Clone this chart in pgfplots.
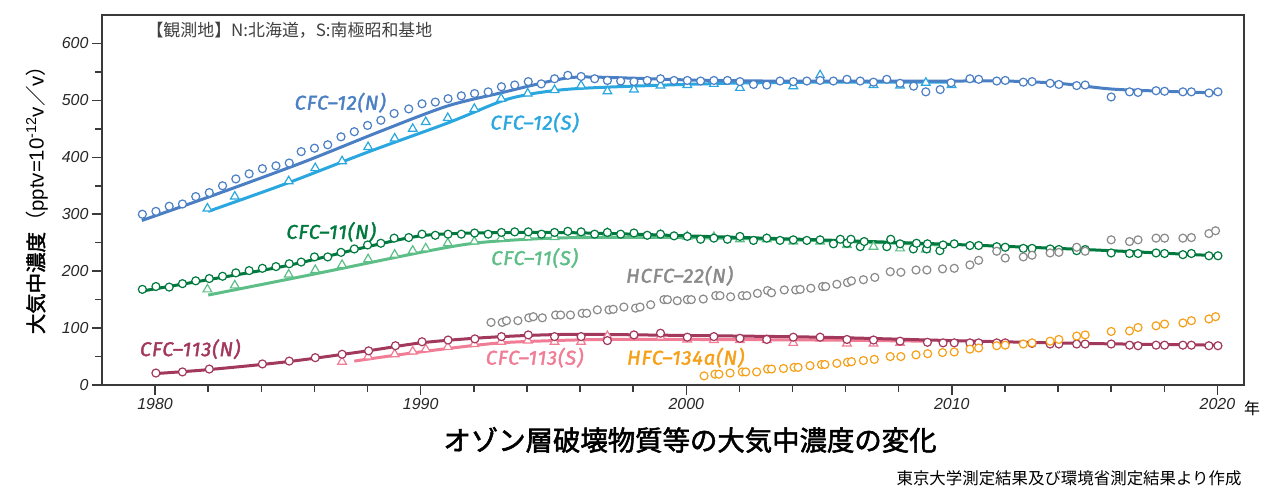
\documentclass[border=0pt]{standalone}
\usepackage{fontspec}
\setmainfont{Liberation Sans}
\newfontfamily\cjk{Noto Sans CJK JP}
\newfontfamily\cjkfb{Noto Sans CJK JP}[FakeBold=2]
\newfontfamily\lblfont{Fira Sans}[LetterSpace=5, FakeBold=2]
\usepackage{pgfplots}
\pgfplotsset{compat=1.18}

\definecolor{c12n}{HTML}{4B7FC4}
\definecolor{c12s}{HTML}{2AA7DF}
\definecolor{c11n}{HTML}{00793E}
\definecolor{c11s}{HTML}{5DBF87}
\definecolor{c22}{HTML}{8A8A8A}
\definecolor{c113n}{HTML}{A2385C}
\definecolor{c113s}{HTML}{F07C95}
\definecolor{c134}{HTML}{F6A01A}
\definecolor{axgray}{HTML}{3A3A3A}

\pgfplotsset{
  trend/.style={no markers, smooth, line width=3bp, color=#1},
  circ/.style={only marks, mark=*, mark size=4bp,
    mark options={draw=#1, fill=white, line width=1.2bp}},
  tri/.style={only marks, mark=triangle*, mark size=5bp,
    mark options={draw=#1, fill=white, line width=1.2bp}},
}
\tikzset{lbl/.style={font=\lblfont\itshape\fontsize{20}{20}\selectfont, text=#1}}

\begin{document}
\begin{tikzpicture}
\begin{axis}[
  scale only axis, width=1142bp, height=370bp,
  xmin=1978, xmax=2021, ymin=0, ymax=650,
  axis line style={line width=2bp, color=axgray},
  xtick={1980,1990,2000,2010,2020},
  minor xtick={1982,1984,1986,1988,1992,1994,1996,1998,2002,2004,2006,2008,2012,2014,2016,2018},
  ytick={0,100,...,600}, minor ytick={50,150,...,550},
  tick align=outside, xtick pos=bottom, ytick pos=left,
  major tick length=10bp, minor tick length=7bp,
  every tick/.style={line width=1.5bp, color=axgray},
  ticklabel style={font=\fontsize{16}{16}\selectfont\itshape, text=black!85},
  /pgf/number format/assume math mode=true,
  /pgf/number format/1000 sep={},
  clip=false,
]
% CFC-12
\addplot[trend=c12s] coordinates {(1982,305)(1985,355)(1988,409)(1991,460)(1993,498)(1994,510)(1995,517)(1996,521)(1998,525)(2001.5,530)(2005,532)(2008,532)(2010,532)};
\addplot[trend=c12n] coordinates {(1979.5,289)(1982,330)(1985.5,390)(1988.5,446)(1991,490)(1993,513)(1995,535)(1996,541)(1998,539)(2000,536)(2003,534)(2006,534)(2010,534)(2012,534)(2014,530)(2016,520)(2018,516)(2020,513)};
\addplot[tri=c12s] coordinates {(1981.97,310)(1983.0,331)(1985.03,358)(1986.03,381)(1987.04,393)(1988.02,418)(1989.02,433)(1989.70,450)(1990.19,462)(1991.02,469)(1992.02,485)(1993.03,503)(1994.03,512)(1995.04,518)(1996.04,526)(1997.03,516)(1998.03,519)(1999.03,526)(2000.04,527)(2001.04,529)(2002.02,522)(2004.03,525)(2005.04,544)(2007.05,527)(2008.05,526)(2009.02,531)(2009.99,527)};
\addplot[circ=c12n] coordinates {(1979.52,300)(1980.03,305)(1980.53,314)(1981.03,318)(1981.53,331)(1982.04,338)(1982.54,350)(1983.04,362)(1983.54,371)(1984.04,380)(1984.55,385)(1985.05,390)(1985.5,410)(1986.0,416)(1986.5,422)(1987.0,436)(1987.5,445)(1988.0,456)(1988.5,465)(1989.0,477)(1989.55,485)(1990.05,494)(1990.55,497)(1991.03,503)(1991.53,508)(1992.03,512)(1992.54,515)(1993.04,524)(1993.54,527)(1994.05,533)(1994.54,529)(1995.04,538)(1995.54,544)(1996.04,542)(1996.55,538)(1997.03,535)(1997.53,534)(1998.03,533)(1998.53,535)(1999.03,538)(1999.54,535)(2000.04,535)(2000.54,534)(2001.04,535)(2001.55,535)(2002.02,533)(2002.53,528)(2003.03,527)(2003.53,534)(2004.03,533)(2004.54,534)(2005.04,535)(2005.54,534)(2006.05,537)(2006.55,534)(2007.05,532)(2007.55,537)(2008.05,530)(2008.56,525)(2009.02,515)(2009.56,519)(2009.97,531)(2010.68,538)(2011.01,537)(2011.69,534)(2012.01,535)(2012.69,532)(2013.02,533)(2013.70,530)(2014.03,528)(2014.70,526)(2015.02,527)(2016.0,506)(2016.69,515)(2017.01,514)(2017.69,517)(2018.01,516)(2018.70,515)(2019.02,515)(2019.68,513)(2020.02,515)};
% CFC-11
\addplot[trend=c11s] coordinates {(1982,158)(1986,195)(1990,233)(1992,249)(1994,256)(1996,259)(2000,259)(2004,255)(2008,249)(2009.5,246)};
\addplot[trend=c11n] coordinates {(1979.5,165)(1982,185)(1985,210)(1988,243)(1990,262)(1992,267)(1995,268)(1998,265)(2000,262)(2005,255)(2010,247)(2015,238)(2020,227)};
\addplot[tri=c11s] coordinates {(1981.97,168)(1983.0,175)(1985.03,194)(1986.03,202)(1987.04,211)(1988.02,221)(1989.02,229)(1989.70,236)(1990.19,240)(1991.02,249)(1992.02,252)(1993.03,258)(1994.03,260)(1995.04,260)(1996.04,266)(1997.03,267)(1998.03,264)(1999.03,264)(2000.04,261)(2001.04,260)(2002.02,256)(2003.03,256)(2004.03,252)(2005.04,252)(2006.05,246)(2007.05,243)(2008.05,240)(2009.02,238)};
\addplot[circ=c11n] coordinates {(1979.52,168)(1980.03,173)(1980.53,172)(1981.03,178)(1981.53,183)(1982.04,187)(1982.54,191)(1983.04,197)(1983.54,201)(1984.04,205)(1984.55,208)(1985.05,213)(1985.5,216)(1986.0,225)(1986.5,225)(1987.0,233)(1987.5,239)(1988.0,246)(1988.5,249)(1989.0,258)(1989.55,259)(1990.05,265)(1990.55,263)(1991.03,265)(1991.53,265)(1992.03,267)(1992.54,265)(1993.04,268)(1993.54,269)(1994.05,269)(1994.55,265)(1995.04,268)(1995.54,270)(1996.04,269)(1996.55,265)(1997.03,268)(1997.53,265)(1998.03,267)(1998.53,263)(1999.03,265)(1999.54,262)(2000.04,261)(2000.54,256)(2001.04,258)(2001.55,256)(2002.02,261)(2002.53,254)(2003.03,258)(2003.53,254)(2004.03,255)(2004.54,254)(2005.04,255)(2005.54,248)(2005.8,256)(2006.05,249)(2006.2,256)(2006.55,243)(2006.7,252)(2007.55,243)(2007.7,256)(2008.05,248)(2008.55,239)(2008.67,249)(2009.05,239)(2009.08,248)(2009.55,236)(2009.67,246)(2010.09,248)(2010.68,245)(2011.01,245)(2011.69,243)(2012.01,242)(2012.69,240)(2013.02,240)(2013.70,239)(2014.03,238)(2014.70,236)(2015.02,238)(2016.0,232)(2016.69,231)(2017.01,231)(2017.69,232)(2018.01,231)(2018.70,229)(2019.02,231)(2019.68,227)(2020.02,227)};
% HCFC-22
\addplot[circ=c22] coordinates {(1992.65,110)(1993.07,110)(1993.23,113)(1993.66,113)(1994.07,118)(1994.24,120)(1994.58,118)(1995.08,123)(1995.27,123)(1995.64,123)(1996.08,126)(1996.25,126)(1996.65,132)(1997.09,132)(1997.25,133)(1997.65,137)(1998.09,135)(1998.26,137)(1998.66,141)(1999.16,150)(1999.29,150)(1999.66,148)(2000.04,150)(2000.19,150)(2000.64,151)(2001.11,157)(2001.27,157)(2001.67,155)(2002.11,157)(2002.28,157)(2002.68,161)(2003.06,166)(2003.21,162)(2003.69,167)(2004.12,167)(2004.29,168)(2004.69,170)(2005.13,173)(2005.25,173)(2005.67,177)(2006.07,180)(2006.22,183)(2006.67,185)(2007.10,189)(2007.68,199)(2008.08,198)(2008.65,202)(2009.06,202)(2009.65,204)(2010.09,205)(2010.68,211)(2011.01,219)(2011.69,235)(2012.01,223)(2012.69,225)(2013.02,228)(2013.70,232)(2014.03,233)(2014.70,242)(2015.02,235)(2016.0,255)(2016.69,252)(2017.01,255)(2017.69,258)(2018.01,258)(2018.70,258)(2019.02,259)(2019.68,266)(2019.93,271)};
% CFC-113
\addplot[trend=c113s] coordinates {(1987.5,42)(1989,52)(1991,64)(1993,74)(1995,78)(1997,80)(2000,80)(2005,79)(2009,77)};
\addplot[trend=c113n] coordinates {(1980,20)(1982,27)(1985,41)(1988,60)(1990,74)(1992,82)(1994,87)(1996,89)(2000,87)(2005,84)(2010,78)(2015,73)(2020,70)};
\addplot[tri=c113s] coordinates {(1987.04,41)(1988.02,50)(1989.02,54)(1989.70,59)(1990.19,63)(1991.02,67)(1992.02,72)(1993.03,76)(1994.03,78)(1995.04,76)(1996.04,76)(1997.03,86)(1998.03,86)(1999.03,85)(2000.04,80)(2001.04,79)(2002.02,79)(2003.03,79)(2004.03,74)(2005.04,82)(2006.05,73)(2007.05,73)(2008.05,74)};
\addplot[circ=c113n] coordinates {(1980.03,21)(1981.03,23)(1982.04,28)(1984.04,37)(1985.05,42)(1986.03,48)(1987.04,54)(1988.04,60)(1989.05,69)(1990.05,76)(1991.03,79)(1992.04,81)(1993.04,85)(1994.05,88)(1995.04,85)(1996.04,85)(1997.03,78)(1998.03,88)(1999.03,91)(2000.04,84)(2001.04,85)(2002.02,82)(2003.03,80)(2004.03,84)(2005.04,84)(2006.05,80)(2007.05,79)(2008.05,77)(2009.08,75)(2009.67,74)(2010.09,74)(2010.68,74)(2011.01,74)(2011.69,74)(2012.01,74)(2013.02,73)(2013.70,72)(2014.03,72)(2014.70,72)(2015.02,72)(2016.0,72)(2016.69,70)(2017.01,69)(2017.69,70)(2018.01,70)(2018.70,70)(2019.02,70)(2019.68,69)(2020.02,69)};
% HFC-134a
\addplot[circ=c134] coordinates {(2000.67,16)(2001.08,19)(2001.23,19)(2001.65,21)(2002.11,23)(2002.24,23)(2002.65,23)(2003.06,28)(2003.21,28)(2003.66,29)(2004.06,31)(2004.21,31)(2004.66,34)(2005.09,36)(2005.22,36)(2005.67,38)(2006.07,40)(2006.22,41)(2006.67,43)(2007.08,45)(2007.68,50)(2008.08,50)(2008.65,53)(2009.09,55)(2009.65,57)(2010.09,58)(2010.68,63)(2011.01,65)(2011.69,69)(2012.01,70)(2012.69,72)(2013.02,74)(2013.70,77)(2014.03,80)(2014.70,86)(2015.02,88)(2016.0,94)(2016.69,95)(2017.01,101)(2017.69,104)(2018.01,107)(2018.70,109)(2019.02,113)(2019.68,116)(2019.93,120)};
% series labels
\node[lbl=c12n] at (axis cs:1986.97,496) {CFC–12(N)};
\node[lbl=c12s] at (axis cs:1994.29,461) {CFC–12(S)};
\node[lbl=c11n] at (axis cs:1986.63,269) {CFC–11(N)};
\node[lbl=c11s] at (axis cs:1994.29,223) {CFC–11(S)};
\node[lbl=c22] at (axis cs:1999.75,192) {HCFC–22(N)};
\node[lbl=c113n] at (axis cs:1981.32,63) {CFC–113(N)};
\node[lbl=c113s] at (axis cs:1994.29,48) {CFC–113(S)};
\node[lbl=c134] at (axis cs:1999.98,48) {HFC–134a(N)};
\end{axis}
% texts around the axis (1bp = 1px of the reference)
\node[anchor=west, text=black!75, font=\cjk\fontsize{17}{17}\selectfont] at (41bp,355bp) {【観測地】N:北海道，S:南極昭和基地};
\node[rotate=90, font=\fontsize{20.5}{20.5}\selectfont] at (-65bp,190bp)
  {{\cjkfb 大気中濃度}{\cjk （}pptv=10\textsuperscript{-12}v{\cjk ／}v{\cjk ）}};
\node[font=\cjk\fontsize{16}{16}\selectfont] at (1150bp,-23bp) {年};
\node[font=\cjkfb\fontsize{27.5}{27.5}\selectfont] at (588bp,-55bp) {オゾン層破壊物質等の大気中濃度の変化};
\node[anchor=east, font=\cjk\fontsize{16.5}{16.5}\selectfont] at (1143bp,-93bp) {東京大学測定結果及び環境省測定結果より作成};
\pgfresetboundingbox
\path[use as bounding box] (-102bp,-110bp) rectangle (1185bp,385bp);
\end{tikzpicture}
\end{document}
